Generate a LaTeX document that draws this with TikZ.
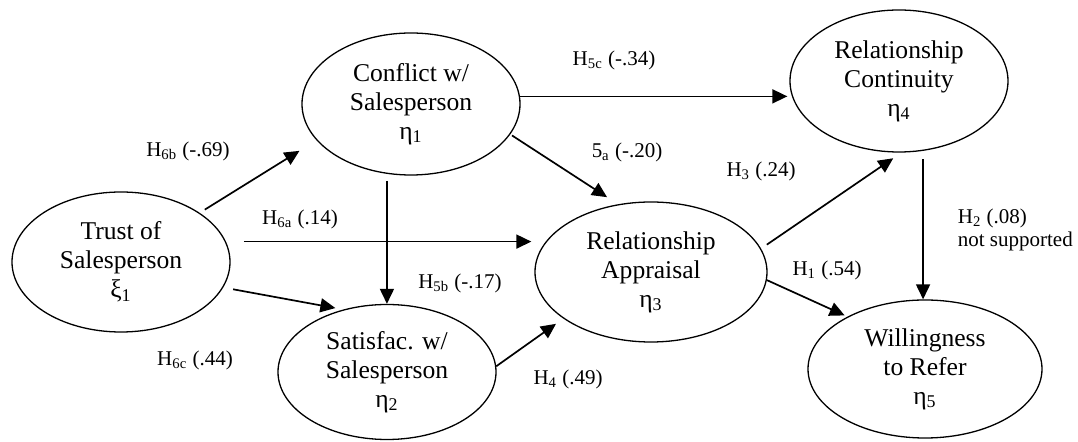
\documentclass[tikz,border=0pt]{standalone}
\usepackage{fontspec}
\setmainfont{Liberation Serif}
\usetikzlibrary{positioning}
\usetikzlibrary{shapes.geometric}
\usetikzlibrary{arrows.meta}

\begin{document}
\begin{tikzpicture}[x=0.5pt, y=-0.5pt, line width=0.85pt,
    latent/.style = {draw, ellipse, line width=0.65pt, inner sep=0pt, align=center, font=\fontsize{12.8}{14.5}\selectfont},
    link/.style = {-{Triangle[length=7.5pt, width=7pt]}},
    lbl/.style = {inner sep=0pt, font=\fontsize{10.5}{12.5}\selectfont}]
    \useasboundingbox (0,0) rectangle (1078,442);

    % latent variables
    \node[latent, minimum width=109pt, minimum height=70pt] (trust) at (121,262) {Trust of\\Salesperson\\ξ\textsubscript{1}};
    \node[latent, minimum width=109pt, minimum height=71pt] (conflict) at (411,104) {Conflict w/\\Salesperson\\η\textsubscript{1}};
    \node[latent, minimum width=109pt, minimum height=67.5pt] (satisf) at (387,372) {Satisfac. w/\\Salesperson\\η\textsubscript{2}};
    \node[latent, minimum width=116pt, minimum height=70pt] (apprais) at (651,272) {Relationship\\Appraisal\\η\textsubscript{3}};
    \node[latent, minimum width=109pt, minimum height=71pt] (contin) at (899,81) {Relationship\\Continuity\\η\textsubscript{4}};
    \node[latent, minimum width=117pt, minimum height=69pt] (willing) at (925,369) {Willingness\\to Refer\\η\textsubscript{5}};

    % paths
    \draw[link, shorten <=3pt, shorten >=10pt] (trust.32) -- (conflict.201);
    \draw[link, shorten <=9pt, shorten >=1.5pt] (trust.11) -- (trust.11 -| apprais.west);
    \draw[link, shorten <=5pt, shorten >=4pt] (trust.346) -- (satisf.125);
    \draw[link, shorten <=3.5pt] (conflict.251) -- (conflict.251 |- satisf.north);
    \draw[link, shorten >=1pt] (conflict.4) -- (conflict.4 -| contin.west);
    \draw[link, shorten <=1pt, shorten >=6.5pt] (conflict.343) -- (apprais.116);
    \draw[link, shorten >=4.5pt] (satisf.3) -- (apprais.208);
    \draw[link, shorten <=3.5pt, shorten >=5pt] (apprais.12) -- (contin.272);
    \draw[link, shorten >=1.5pt] (apprais.356) -- (willing.146);
    \draw[link, shorten <=4.3pt] (contin.289) -- (contin.289 |- willing.north);

    % path labels
    \node[lbl] (h6b) at (188,151) {H\textsubscript{6b} (-.69)};
    \node[lbl] (h6a) at (300,219) {H\textsubscript{6a} (.14)};
    \node[lbl] (h6c) at (195,360) {H\textsubscript{6c} (.44)};
    \node[lbl] (h5c) at (614,60) {H\textsubscript{5c} (-.34)};
    \node[lbl] (h5a) at (627,152) {5\textsubscript{a} (-.20)};
    \node[lbl] (h5b) at (460,283) {H\textsubscript{5b} (-.17)};
    \node[lbl] (h4) at (568,379) {H\textsubscript{4} (.49)};
    \node[lbl] (h3) at (761,171) {H\textsubscript{3} (.24)};
    \node[lbl] (h1) at (827,270) {H\textsubscript{1} (.54)};
    \node[lbl, anchor=west] (h2) at (957,218) {H\textsubscript{2} (.08)};
    \node[lbl, below=1.5pt of h2.south west, anchor=north west] (nosup) {not supported};
\end{tikzpicture}
\end{document}
